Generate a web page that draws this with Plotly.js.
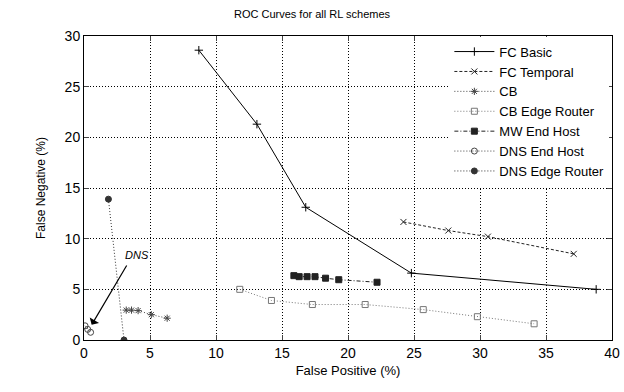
<!DOCTYPE html>
<html><head><meta charset="utf-8">
<script src="https://cdn.plot.ly/plotly-3.0.1.min.js"></script>
<style>html,body{margin:0;padding:0;background:#fff}</style>
</head><body><div id="chart" style="width:624px;height:392px"></div>
<script>
const seriesNames = ["FC Basic","FC Temporal","CB","CB Edge Router","MW End Host","DNS End Host","DNS Edge Router"];
const fcBasicX = [8.7, 13.1, 16.8, 24.8, 38.8];
const fcBasicY = [28.6, 21.3, 13.1, 6.6, 5.0];
const fcTemporalX = [24.2, 27.6, 30.6, 37.1];
const fcTemporalY = [11.65, 10.8, 10.2, 8.5];
const cbX = [3.2, 3.6, 4.1, 5.1, 6.3];
const cbY = [2.95, 2.95, 2.9, 2.5, 2.15];
const cbEdgeX = [11.8, 14.2, 17.3, 21.3, 25.7, 29.8, 34.1];
const cbEdgeY = [5.0, 3.9, 3.5, 3.5, 3.0, 2.3, 1.6];
const mwX = [15.9, 16.3, 16.9, 17.5, 18.3, 19.3, 22.2];
const mwY = [6.35, 6.25, 6.25, 6.25, 6.1, 5.95, 5.7];
const dnsEndX = [0.08, 0.28, 0.5];
const dnsEndY = [1.4, 1.05, 0.76];
const dnsEdgeX = [1.85, 3.03];
const dnsEdgeY = [13.9, 0.0];
const xTicks = [0,5,10,15,20,25,30,35,40];
const yTicks = [0,5,10,15,20,25,30];

const font = "Liberation Sans, Arial, sans-serif";
function tr(name, x, y, dash, color, symbol, msize, lw) {
  return {type:"scatter", mode:"lines+markers", name:name, x:x, y:y,
    line:{color:color, width:lw||1, dash:dash},
    marker:{symbol:symbol, size:msize, color:color, line:{color:color, width:1}}};
}
const data = [
  tr(seriesNames[0], fcBasicX, fcBasicY, "solid", "#000", "cross-thin-open", 6, 1),
  tr(seriesNames[1], fcTemporalX, fcTemporalY, "3px,2px", "#222", "x-thin-open", 6),
  tr(seriesNames[2], cbX, cbY, "1px,2px", "#444", "asterisk-open", 6),
  tr(seriesNames[3], cbEdgeX, cbEdgeY, "1px,2px", "#777", "square-open", 6),
  tr(seriesNames[4], mwX, mwY, "4px,2px,1px,2px", "#222", "square", 6),
  tr(seriesNames[5], dnsEndX, dnsEndY, "1px,2px", "#444", "circle-open", 6),
  tr(seriesNames[6], dnsEdgeX, dnsEdgeY, "1px,2px", "#333", "circle", 6)
];
const layout = {
  width:624, height:392,
  margin:{l:84, r:12, t:36, b:52},
  paper_bgcolor:"#fff", plot_bgcolor:"#fff",
  font:{family:font, size:14, color:"#000"},
  title:{text:"ROC Curves for all RL schemes", font:{size:11, family:font}, x:0.5, xanchor:"center", y:0.975, yanchor:"top"},
  xaxis:{range:[0,40], tickvals:xTicks, ticks:"inside", ticklen:5, mirror:"allticks", showline:true, linecolor:"#000", linewidth:1,
    showgrid:true, gridcolor:"#000", griddash:"1px,2px", gridwidth:1, zeroline:false,
    title:{text:"False Positive (%)", font:{size:13}, standoff:6}, tickfont:{size:14}},
  yaxis:{range:[0,30], tickvals:yTicks, ticks:"inside", ticklen:5, mirror:"allticks", showline:true, linecolor:"#000", linewidth:1,
    showgrid:true, gridcolor:"#000", griddash:"1px,2px", gridwidth:1, zeroline:false,
    title:{text:"False Negative (%)", font:{size:12}, standoff:16}, tickfont:{size:14}},
  legend:{x:0.995, y:0.998, xanchor:"right", yanchor:"top", bgcolor:"#fff", borderwidth:0,
    font:{size:13, family:font}, itemwidth:40, tracegroupgap:0},
  showlegend:true,
  annotations:[
    {x:0.58, y:1.5, ax:3.3, ay:7.5, xref:"x", yref:"y", axref:"x", ayref:"y", text:"", showarrow:true,
     arrowhead:1, arrowsize:1.5, arrowwidth:1.2, arrowcolor:"#000"},
    {x:4.0, y:8.4, xref:"x", yref:"y", text:"<i>DNS</i>", showarrow:false, font:{size:11, family:font}}
  ]
};
Plotly.newPlot("chart", data, layout, {displayModeBar:false, staticPlot:true});
</script></body></html>
